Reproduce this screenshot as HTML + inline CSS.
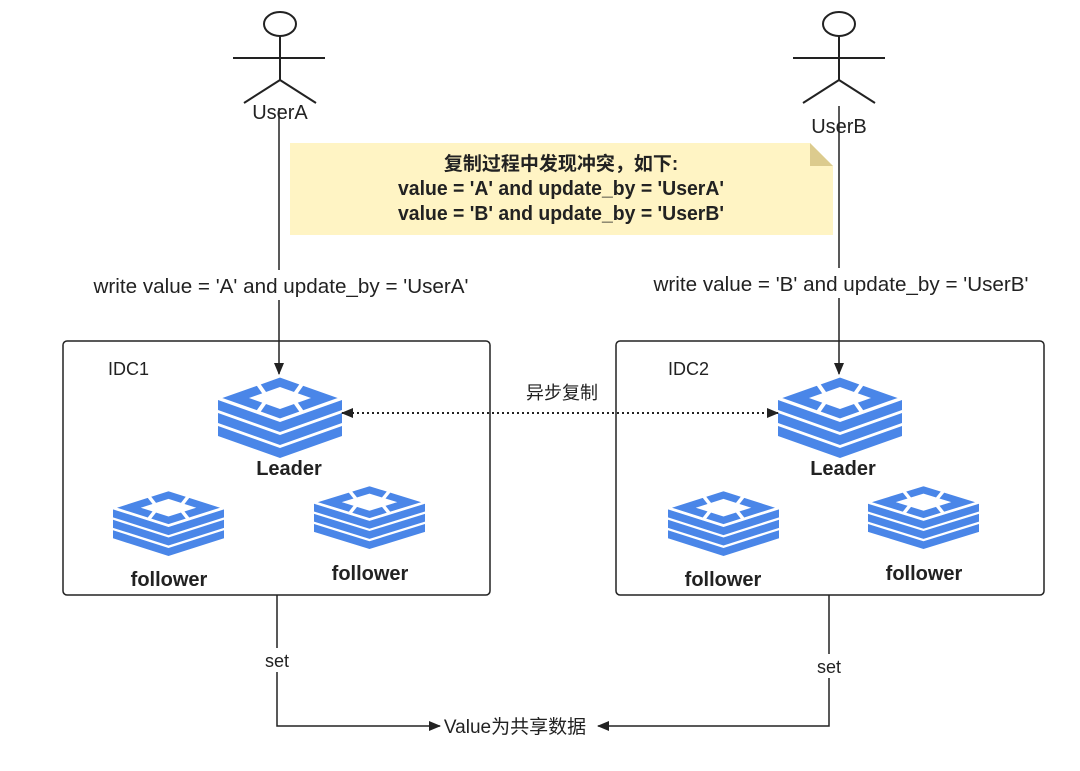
<!DOCTYPE html>
<html><head><meta charset="utf-8"><style>
html,body{margin:0;padding:0;background:#fff;}
svg text{font-family:"Liberation Sans","Noto Sans CJK SC",sans-serif;fill:#222;}
</style></head><body>
<svg width="1080" height="766" viewBox="0 0 1080 766" xmlns="http://www.w3.org/2000/svg">
<defs>
<symbol id="stk" viewBox="0 0 124 82" preserveAspectRatio="none">
  <g fill="#4a86e8">
    <polygon points="0,50 62,72 124,50 124,60 62,82 0,60"/>
    <polygon points="0,37 62,59 124,37 124,47 62,69 0,47"/>
    <polygon points="0,24 62,46 124,24 124,34 62,56 0,34"/>
  </g>
  <polygon points="62,0 124,22 62,44 0,22" fill="#4a86e8" stroke="#fff" stroke-width="3"/>
  <polygon points="62,11 93,22 62,33 31,22" fill="#fff"/>
  <g stroke="#fff" stroke-width="4">
    <line x1="40" y1="8" x2="52" y2="25"/>
    <line x1="84" y1="8" x2="72" y2="25"/>
    <line x1="40" y1="36" x2="52" y2="19"/>
    <line x1="84" y1="36" x2="72" y2="19"/>
  </g>
</symbol>
<marker id="ar" markerWidth="12" markerHeight="10" refX="11" refY="5" orient="auto" markerUnits="userSpaceOnUse">
  <polygon points="0,0 12,5 0,10" fill="#222"/>
</marker>
<marker id="arS" markerWidth="12" markerHeight="10" refX="1" refY="5" orient="auto" markerUnits="userSpaceOnUse">
  <polygon points="12,0 0,5 12,10" fill="#222"/>
</marker>
</defs>

<g stroke="#222" stroke-width="2" fill="none">
  <ellipse cx="280" cy="24" rx="16" ry="12"/>
  <line x1="280" y1="36" x2="280" y2="80"/>
  <line x1="233" y1="58" x2="325" y2="58"/>
  <line x1="280" y1="80" x2="244" y2="103"/>
  <line x1="280" y1="80" x2="316" y2="103"/>
  <ellipse cx="839" cy="24" rx="16" ry="12"/>
  <line x1="839" y1="36" x2="839" y2="80"/>
  <line x1="793" y1="58" x2="885" y2="58"/>
  <line x1="839" y1="80" x2="803" y2="103"/>
  <line x1="839" y1="80" x2="875" y2="103"/>
</g>
<text x="280" y="119" font-size="20" text-anchor="middle">UserA</text>
<text x="839" y="133" font-size="20" text-anchor="middle">UserB</text>

<line x1="279" y1="108" x2="279" y2="374" stroke="#222" stroke-width="1.5" marker-end="url(#ar)"/>
<line x1="839" y1="106" x2="839" y2="374" stroke="#222" stroke-width="1.5" marker-end="url(#ar)"/>

<polygon points="290,143 810,143 833,166 833,235 290,235" fill="#fff4c4"/>
<polygon points="810,143 833,166 810,166" fill="#dccb8e"/>
<text x="561" y="170" font-size="19" font-weight="bold" text-anchor="middle">复制过程中发现冲突，如下:</text>
<text x="561" y="195" font-size="20" font-weight="bold" text-anchor="middle" textLength="326" lengthAdjust="spacingAndGlyphs">value = 'A' and update_by = 'UserA'</text>
<text x="561" y="220" font-size="20" font-weight="bold" text-anchor="middle" textLength="326" lengthAdjust="spacingAndGlyphs">value = 'B' and update_by = 'UserB'</text>

<rect x="88" y="270" width="386" height="30" fill="#fff"/>
<text x="281" y="293" font-size="20" text-anchor="middle" textLength="375" lengthAdjust="spacingAndGlyphs">write value = 'A' and update_by = 'UserA'</text>
<rect x="648" y="268" width="386" height="30" fill="#fff"/>
<text x="841" y="291" font-size="20" text-anchor="middle" textLength="375" lengthAdjust="spacingAndGlyphs">write value = 'B' and update_by = 'UserB'</text>

<rect x="63" y="341" width="427" height="254" rx="4" fill="none" stroke="#222" stroke-width="1.5"/>
<rect x="616" y="341" width="428" height="254" rx="4" fill="none" stroke="#222" stroke-width="1.5"/>
<text x="108" y="375" font-size="18">IDC1</text>
<text x="668" y="375" font-size="18">IDC2</text>

<use href="#stk" x="218" y="376" width="124" height="82"/>
<use href="#stk" x="113" y="490" width="111" height="66"/>
<use href="#stk" x="314" y="485" width="111" height="64"/>
<use href="#stk" x="778" y="376" width="124" height="82"/>
<use href="#stk" x="668" y="490" width="111" height="66"/>
<use href="#stk" x="868" y="485" width="111" height="64"/>

<text x="289" y="475" font-size="20" font-weight="bold" text-anchor="middle">Leader</text>
<text x="843" y="475" font-size="20" font-weight="bold" text-anchor="middle">Leader</text>
<text x="169" y="586" font-size="20" font-weight="bold" text-anchor="middle">follower</text>
<text x="370" y="580" font-size="20" font-weight="bold" text-anchor="middle">follower</text>
<text x="723" y="586" font-size="20" font-weight="bold" text-anchor="middle">follower</text>
<text x="924" y="580" font-size="20" font-weight="bold" text-anchor="middle">follower</text>

<line x1="342" y1="413" x2="778" y2="413" stroke="#222" stroke-width="2" stroke-dasharray="2,3" marker-start="url(#arS)" marker-end="url(#ar)"/>
<text x="562" y="399" font-size="18" text-anchor="middle">异步复制</text>

<polyline points="277,595 277,726 440,726" fill="none" stroke="#222" stroke-width="1.5" marker-end="url(#ar)"/>
<polyline points="829,595 829,726 598,726" fill="none" stroke="#222" stroke-width="1.5" marker-end="url(#ar)"/>
<rect x="258" y="648" width="38" height="24" fill="#fff"/>
<text x="277" y="667" font-size="18" text-anchor="middle">set</text>
<rect x="810" y="654" width="38" height="24" fill="#fff"/>
<text x="829" y="673" font-size="18" text-anchor="middle">set</text>
<text x="515" y="733" font-size="19" text-anchor="middle">Value为共享数据</text>
</svg>
</body></html>
